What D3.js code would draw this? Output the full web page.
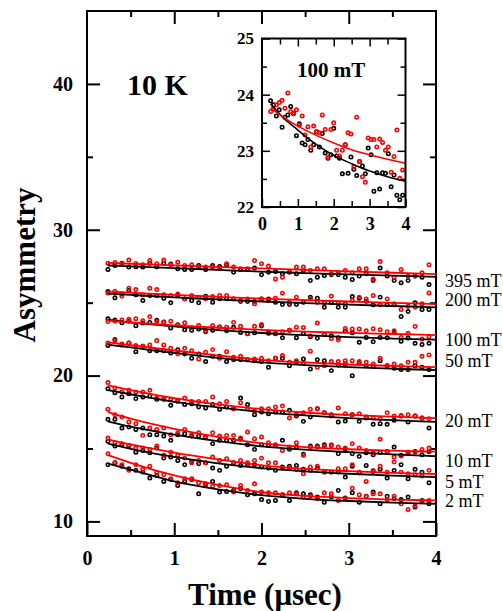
<!DOCTYPE html>
<html>
<head>
<meta charset="utf-8">
<script src="https://cdn.jsdelivr.net/npm/d3@7"></script>
<style>
body { margin: 0; background: #fff; }
svg { display: block; font-family: "Liberation Serif", "Times New Roman", serif; }
</style>
</head>
<body>
<div class="asym-figure"></div>
<script>
// time bins (usec), same for every field
let times = [0.24,0.32,0.40,0.48,0.56,0.64,0.72,0.80,0.88,0.96,1.04,1.12,1.20,1.28,1.36,1.44,
  1.52,1.60,1.68,1.76,1.84,1.92,2.00,2.08,2.16,2.24,2.32,2.40,2.48,2.56,2.64,2.72,2.80,2.88,
  2.96,3.04,3.12,3.20,3.28,3.36,3.44,3.52,3.60,3.68,3.76,3.84,3.92];

let fields = ["395 mT", "200 mT", "100 mT", "50 mT", "20 mT", "10 mT", "5 mT", "2 mT"];
let labelAsym = [26.54, 25.17, 22.43, 21.0, 16.91, 14.17, 12.72, 11.42]; // where the field label sits

// measured asymmetry, black and red runs
let black395 = [27.28,27.55,27.71,27.44,27.46,27.44,27.71,27.46,27.71,27.66,27.32,27.28,27.28,27.55,27.28,27.55,27.48,27.55,27.09,27.28,27.28,27.37,26.91,27.09,27.14,26.98,27.09,26.98,27.21,26.52,26.75,26.86,26.91,26.91,26.75,26.59,26.82,26.98,26.52,27.37,26.82,26.52,26.36,26.52,26.82,26.75,26.24];
let red395 = [27.71,27.76,27.67,27.92,27.69,27.60,27.89,27.67,27.92,27.60,27.78,27.55,27.60,27.44,27.44,27.44,27.32,27.67,27.44,27.32,27.32,27.89,27.67,27.51,26.63,26.75,27.09,27.44,27.44,27.21,27.32,27.32,26.98,27.05,27.21,27.05,27.32,27.32,26.63,27.82,27.05,26.75,27.28,26.82,26.82,27.05,27.60];
let black200 = [25.76,25.33,25.60,25.83,25.54,25.15,25.49,25.49,25.31,24.99,25.49,25.26,25.15,24.99,25.44,25.03,25.26,25.26,25.26,25.08,25.08,25.08,25.26,25.26,25.03,24.87,24.87,24.87,25.03,25.38,25.31,24.69,24.99,24.69,24.69,25.42,25.31,25.10,24.85,25.38,24.85,24.85,24.05,24.39,24.99,24.53,24.53];
let red200 = [25.67,25.79,25.44,25.99,25.90,25.54,25.99,25.90,25.54,25.49,25.60,25.26,25.49,25.38,25.26,25.42,25.49,25.49,25.26,25.15,25.26,24.92,25.26,25.15,25.31,25.65,25.03,25.38,25.08,25.26,25.03,24.99,25.44,24.99,24.92,25.15,25.38,25.26,25.49,24.85,25.26,24.92,24.53,24.76,24.69,24.92,25.67];
let black100 = [23.89,23.82,23.62,23.73,23.42,23.60,23.64,23.79,23.67,23.27,23.48,23.14,23.11,23.20,23.01,23.11,23.34,23.07,23.31,22.96,22.87,22.93,23.40,22.91,22.87,22.59,23.11,22.60,22.89,22.67,22.56,22.81,22.73,22.59,23.05,22.93,22.28,22.61,22.32,22.61,22.60,22.95,22.36,22.57,22.21,22.13,22.21];
let red100 = [23.70,23.74,23.82,23.86,23.90,23.76,24.03,23.70,23.66,23.73,23.46,23.62,23.28,23.43,23.07,23.44,23.34,23.32,23.64,23.38,22.88,23.38,23.50,23.01,22.91,23.01,23.11,23.32,23.30,22.72,23.60,22.81,22.54,22.44,23.23,23.20,23.20,23.07,23.21,23.15,23.01,23.07,22.62,22.90,23.37,22.51,22.66];
let black50 = [22.06,22.47,22.10,22.24,21.64,22.01,21.71,21.71,21.71,21.55,21.78,21.48,21.19,21.48,20.96,21.32,21.32,20.96,21.09,21.09,21.09,21.02,20.96,20.57,21.19,21.19,20.68,20.91,21.14,20.45,21.09,21.02,20.34,20.73,20.80,19.99,20.87,20.68,20.64,21.02,20.68,20.50,20.41,20.41,20.68,20.57,20.41];
let red50 = [22.24,22.40,22.17,22.24,22.06,22.01,22.10,22.40,22.10,21.87,21.48,21.87,21.71,21.14,21.60,21.78,21.19,21.64,21.25,21.32,21.09,21.14,21.19,21.02,21.19,21.37,20.91,21.02,20.87,21.67,20.57,20.68,20.96,20.96,21.02,21.02,20.96,20.91,20.80,21.19,20.68,20.80,20.68,20.91,20.91,21.32,21.42];
let black20 = [19.10,18.83,18.53,18.76,18.42,18.53,18.60,18.37,18.37,17.96,18.30,18.01,18.07,17.85,17.78,18.01,17.69,17.85,17.73,18.46,18.01,17.32,17.50,17.39,17.50,17.50,17.62,17.23,16.86,17.16,17.73,17.46,17.32,16.82,16.88,17.32,16.86,17.16,16.66,16.70,16.66,16.93,17.23,16.82,17.23,17.09,16.40];
let red20 = [19.52,19.15,18.88,18.99,18.88,18.88,18.99,18.46,18.42,18.37,18.23,18.46,18.23,18.23,18.23,18.53,18.07,18.23,17.73,18.14,17.73,17.55,17.73,17.73,17.85,17.91,17.09,17.32,17.46,17.69,17.73,17.46,17.23,17.78,17.39,17.32,17.39,17.09,17.09,17.04,17.46,17.23,17.27,17.32,17.23,17.09,17.04];
let black10 = [17.00,17.00,16.40,16.47,16.31,16.40,15.95,15.95,15.85,15.56,15.95,16.01,15.85,15.85,15.79,15.33,15.56,15.56,15.56,15.63,15.26,14.94,15.26,15.21,15.21,15.56,14.94,15.10,14.60,15.17,15.17,15.26,15.21,14.64,14.94,14.64,14.46,14.71,14.57,14.75,14.80,15.10,14.53,14.75,14.80,14.57,14.80];
let red10 = [17.69,17.32,17.16,16.82,16.70,15.90,16.40,16.31,16.40,15.95,16.08,16.31,15.95,16.08,15.72,16.08,15.85,15.90,15.90,15.72,16.13,15.67,15.79,15.40,15.26,14.87,15.10,15.40,14.53,15.10,15.10,15.17,15.26,15.10,15.03,15.33,15.03,14.87,14.71,15.63,14.80,14.41,14.48,14.64,14.75,14.94,15.03];
let black5 = [15.49,15.17,15.26,15.21,14.75,14.87,14.71,15.03,14.34,14.41,14.18,13.89,14.11,13.95,14.02,13.66,13.50,13.79,14.02,13.84,13.89,13.89,13.73,13.66,13.50,13.73,13.79,13.84,13.57,13.50,13.66,13.38,13.38,13.38,13.04,13.79,13.34,13.84,13.43,13.57,12.97,13.50,13.89,12.92,13.57,13.38,12.65];
let red5 = [15.72,15.40,15.33,15.17,15.03,15.03,14.94,15.17,14.53,14.75,14.53,14.34,14.02,14.18,14.02,14.41,14.18,14.30,14.02,14.18,14.02,14.18,14.34,14.02,14.02,13.66,13.66,13.57,13.27,13.73,13.79,13.38,13.38,13.61,13.61,13.89,13.38,12.74,13.50,13.79,13.38,14.07,13.38,13.27,13.20,13.11,13.50];
let black2 = [13.89,14.02,13.79,13.61,13.50,13.38,12.97,13.15,12.74,12.88,12.47,12.74,12.88,11.89,12.58,12.74,12.01,12.05,12.12,12.24,11.83,11.89,11.50,11.37,11.44,11.83,11.44,11.96,11.89,11.83,11.67,11.32,11.67,12.12,11.60,11.96,11.32,11.73,12.01,11.21,11.73,11.55,11.50,11.67,10.98,11.44,11.21];
let red2 = [14.64,14.02,13.89,13.50,13.89,13.57,13.79,13.34,13.20,12.92,12.65,12.92,12.92,12.65,12.47,12.42,12.47,12.51,12.01,12.47,12.12,12.58,12.01,11.96,11.96,11.83,11.96,11.89,11.67,11.73,11.55,11.96,11.89,11.44,11.55,12.28,11.83,11.73,11.89,11.89,11.50,11.73,11.21,10.82,11.05,11.37,11.44];

// fitted curves, read at these times
let fitTimes = [0.24, 0.5, 1, 1.5, 2, 2.5, 3, 3.5, 4];
let fitBlack395 = [27.55,27.49,27.37,27.25,27.13,27.03,26.94,26.85,26.77];
let fitRed395 = [27.73,27.67,27.56,27.45,27.35,27.25,27.15,27.05,26.96];
let fitBlack200 = [25.62,25.53,25.36,25.22,25.08,24.97,24.87,24.77,24.68];
let fitRed200 = [25.76,25.68,25.53,25.40,25.28,25.17,25.08,24.99,24.90];
let fitBlack100 = [23.84,23.65,23.37,23.12,22.92,22.77,22.64,22.54,22.46];
let fitRed100 = [23.77,23.64,23.44,23.28,23.14,23.02,22.93,22.85,22.78];
let fitBlack50 = [22.12,21.93,21.55,21.22,20.90,20.72,20.58,20.47,20.38];
let fitRed50 = [22.28,22.08,21.72,21.38,21.08,20.90,20.76,20.66,20.58];
let fitBlack20 = [19.00,18.72,18.20,17.82,17.50,17.27,17.08,16.94,16.82];
let fitRed20 = [19.33,19.00,18.45,18.02,17.70,17.47,17.30,17.18,17.08];
let fitBlack10 = [16.85,16.50,15.95,15.50,15.15,14.92,14.75,14.60,14.47];
let fitRed10 = [17.50,17.05,16.35,15.80,15.35,15.10,14.95,14.85,14.78];
let fitBlack5 = [15.33,14.98,14.42,13.98,13.65,13.43,13.27,13.14,13.04];
let fitRed5 = [15.63,15.28,14.72,14.25,13.85,13.60,13.45,13.33,13.25];
let fitBlack2 = [13.96,13.55,12.75,12.20,11.80,11.55,11.40,11.29,11.21];
let fitRed2 = [14.55,14.02,13.15,12.50,12.00,11.75,11.60,11.50,11.44];

let xTicks = [0, 1, 2, 3, 4];
let xMinor = [0.5, 1.5, 2.5, 3.5];
let yTicks = [10, 20, 30, 40];
let yMinor = [15, 25, 35];
let insetYTicks = [22, 23, 24, 25];
let insetYMinor = [22.5, 23.5, 24.5];

let blacks = [black395, black200, black100, black50, black20, black10, black5, black2];
let reds = [red395, red200, red100, red50, red20, red10, red5, red2];
let fitBlacks = [fitBlack395, fitBlack200, fitBlack100, fitBlack50, fitBlack20, fitBlack10, fitBlack5, fitBlack2];
let fitReds = [fitRed395, fitRed200, fitRed100, fitRed50, fitRed20, fitRed10, fitRed5, fitRed2];

let rows = fields.map((f, i) => ({
  field: f, labelAt: labelAsym[i],
  black: blacks[i], red: reds[i], fitB: fitBlacks[i], fitR: fitReds[i]
}));

let margin = {top: 11, right: 67, bottom: 75, left: 87},
  width = 503 - margin.left - margin.right,
  height = 611 - margin.top - margin.bottom;

let root = d3.select("body").select(".asym-figure")
  .append("svg")
  .attr("width", 503)
  .attr("height", 611);

let svg = root.append("g")
  .attr("transform", "translate(" + margin.left + "," + margin.top + ")");

let x = d3.scaleLinear().domain([0, 4]).range([0, width]);
let y = d3.scaleLinear().domain([9, 45]).range([height, 0]);

function styleAxis(g, font, sw) {
  g.select(".domain").remove();
  g.selectAll(".tick line").attr("stroke", "#000").attr("stroke-width", sw);
  g.selectAll("text").style("font", font).attr("fill", "#000");
}

// ticks on all four sides, pointing in
svg.append("g").attr("transform", "translate(0," + height + ")")
  .call(d3.axisBottom(x).tickValues(xTicks).tickSize(-13).tickPadding(15).tickFormat(d3.format("d")))
  .call(g => styleAxis(g, "bold 20px 'Liberation Serif'", 2));
svg.append("g").attr("transform", "translate(0," + height + ")")
  .call(d3.axisBottom(x).tickValues(xMinor).tickSize(-6).tickFormat(""))
  .call(g => styleAxis(g, "", 2));
svg.append("g")
  .call(d3.axisTop(x).tickValues([1, 2, 3]).tickSize(-13).tickFormat(""))
  .call(g => styleAxis(g, "", 2));
svg.append("g")
  .call(d3.axisTop(x).tickValues(xMinor).tickSize(-6).tickFormat(""))
  .call(g => styleAxis(g, "", 2));
svg.append("g")
  .call(d3.axisLeft(y).tickValues(yTicks).tickSize(-13).tickPadding(14).tickFormat(d3.format("d")))
  .call(g => styleAxis(g, "bold 20px 'Liberation Serif'", 2));
svg.append("g")
  .call(d3.axisLeft(y).tickValues(yMinor).tickSize(-6).tickFormat(""))
  .call(g => styleAxis(g, "", 2));
svg.append("g").attr("transform", "translate(" + width + ",0)")
  .call(d3.axisRight(y).tickValues(yTicks).tickSize(-13).tickFormat(""))
  .call(g => styleAxis(g, "", 2));
svg.append("g").attr("transform", "translate(" + width + ",0)")
  .call(d3.axisRight(y).tickValues(yMinor).tickSize(-6).tickFormat(""))
  .call(g => styleAxis(g, "", 2));

svg.append("rect")
  .attr("width", width).attr("height", height)
  .attr("fill", "none").attr("stroke", "#000").attr("stroke-width", 2);

function drawPoints(g, xs, ys, vals, color, r) {
  g.append("g").selectAll("circle")
    .data(vals)
    .enter()
    .append("circle")
    .attr("cx", (d, i) => xs(times[i]))
    .attr("cy", d => ys(d))
    .attr("r", r)
    .attr("fill", "none")
    .attr("stroke", color)
    .attr("stroke-width", 1.6);
}

function drawFit(g, xs, ys, vals, color, sw) {
  let line = d3.line()
    .x((d, i) => xs(fitTimes[i]))
    .y(d => ys(d))
    .curve(d3.curveMonotoneX);
  g.append("path")
    .datum(vals)
    .attr("d", line)
    .attr("fill", "none")
    .attr("stroke", color)
    .attr("stroke-width", sw);
}

rows.forEach(r => {
  drawPoints(svg, x, y, r.black, "#000", 1.7);
  drawPoints(svg, x, y, r.red, "#ff0000", 1.7);
  drawFit(svg, x, y, r.fitB, "#000", 1.8);
  drawFit(svg, x, y, r.fitR, "#ff0000", 1.8);

  svg.append("text")
    .attr("x", width + 9)
    .attr("y", y(r.labelAt))
    .attr("dy", "0.35em")
    .style("font", "18px 'Liberation Serif'")
    .text(r.field);
});

svg.append("text")
  .attr("x", 40).attr("y", 84)
  .style("font", "bold 30px 'Liberation Serif'")
  .text("10 K");

// axis titles
root.append("text")
  .attr("transform", "translate(35," + 265 + ") rotate(-90)")
  .attr("text-anchor", "middle")
  .style("font", "bold 31px 'Liberation Serif'")
  .text("Asymmetry");

root.append("text")
  .attr("x", 265).attr("y", 605)
  .attr("text-anchor", "middle")
  .style("font", "bold 31px 'Liberation Serif'")
  .text("Time (\u03bcsec)");

// inset: 100 mT close up
let iw = 143.5, ih = 168.5;
let inset = root.append("g").attr("transform", "translate(262,38.5)");
let ix = d3.scaleLinear().domain([0, 4]).range([0, iw]);
let iy = d3.scaleLinear().domain([22, 25]).range([ih, 0]);

inset.append("rect")
  .attr("width", iw).attr("height", ih)
  .attr("fill", "#fff");

inset.append("g").attr("transform", "translate(0," + ih + ")")
  .call(d3.axisBottom(ix).tickValues(xTicks).tickSize(-8).tickPadding(10).tickFormat(d3.format("d")))
  .call(g => styleAxis(g, "bold 18px 'Liberation Serif'", 1.5));
inset.append("g").attr("transform", "translate(0," + ih + ")")
  .call(d3.axisBottom(ix).tickValues(xMinor).tickSize(-6).tickFormat(""))
  .call(g => styleAxis(g, "", 1.5));
inset.append("g")
  .call(d3.axisTop(ix).tickValues([1, 2, 3]).tickSize(-8).tickFormat(""))
  .call(g => styleAxis(g, "", 1.5));
inset.append("g")
  .call(d3.axisTop(ix).tickValues(xMinor).tickSize(-6).tickFormat(""))
  .call(g => styleAxis(g, "", 1.5));
inset.append("g")
  .call(d3.axisLeft(iy).tickValues(insetYTicks).tickSize(-8).tickPadding(8).tickFormat(d3.format("d")))
  .call(g => styleAxis(g, "bold 17px 'Liberation Serif'", 1.5));
inset.append("g")
  .call(d3.axisLeft(iy).tickValues(insetYMinor).tickSize(-5).tickFormat(""))
  .call(g => styleAxis(g, "", 1.5));
inset.append("g").attr("transform", "translate(" + iw + ",0)")
  .call(d3.axisRight(iy).tickValues(insetYTicks).tickSize(-8).tickFormat(""))
  .call(g => styleAxis(g, "", 1.5));
inset.append("g").attr("transform", "translate(" + iw + ",0)")
  .call(d3.axisRight(iy).tickValues(insetYMinor).tickSize(-5).tickFormat(""))
  .call(g => styleAxis(g, "", 1.5));

drawPoints(inset, ix, iy, black100, "#000", 1.7);
drawPoints(inset, ix, iy, red100, "#ff0000", 1.7);
drawFit(inset, ix, iy, fitBlack100, "#000", 1.6);
drawFit(inset, ix, iy, fitRed100, "#ff0000", 1.6);

inset.append("rect")
  .attr("width", iw).attr("height", ih)
  .attr("fill", "none").attr("stroke", "#000").attr("stroke-width", 2);

inset.append("text")
  .attr("x", 35).attr("y", 38.5)
  .style("font", "bold 21px 'Liberation Serif'")
  .text("100 mT");
</script>
</body>
</html>
